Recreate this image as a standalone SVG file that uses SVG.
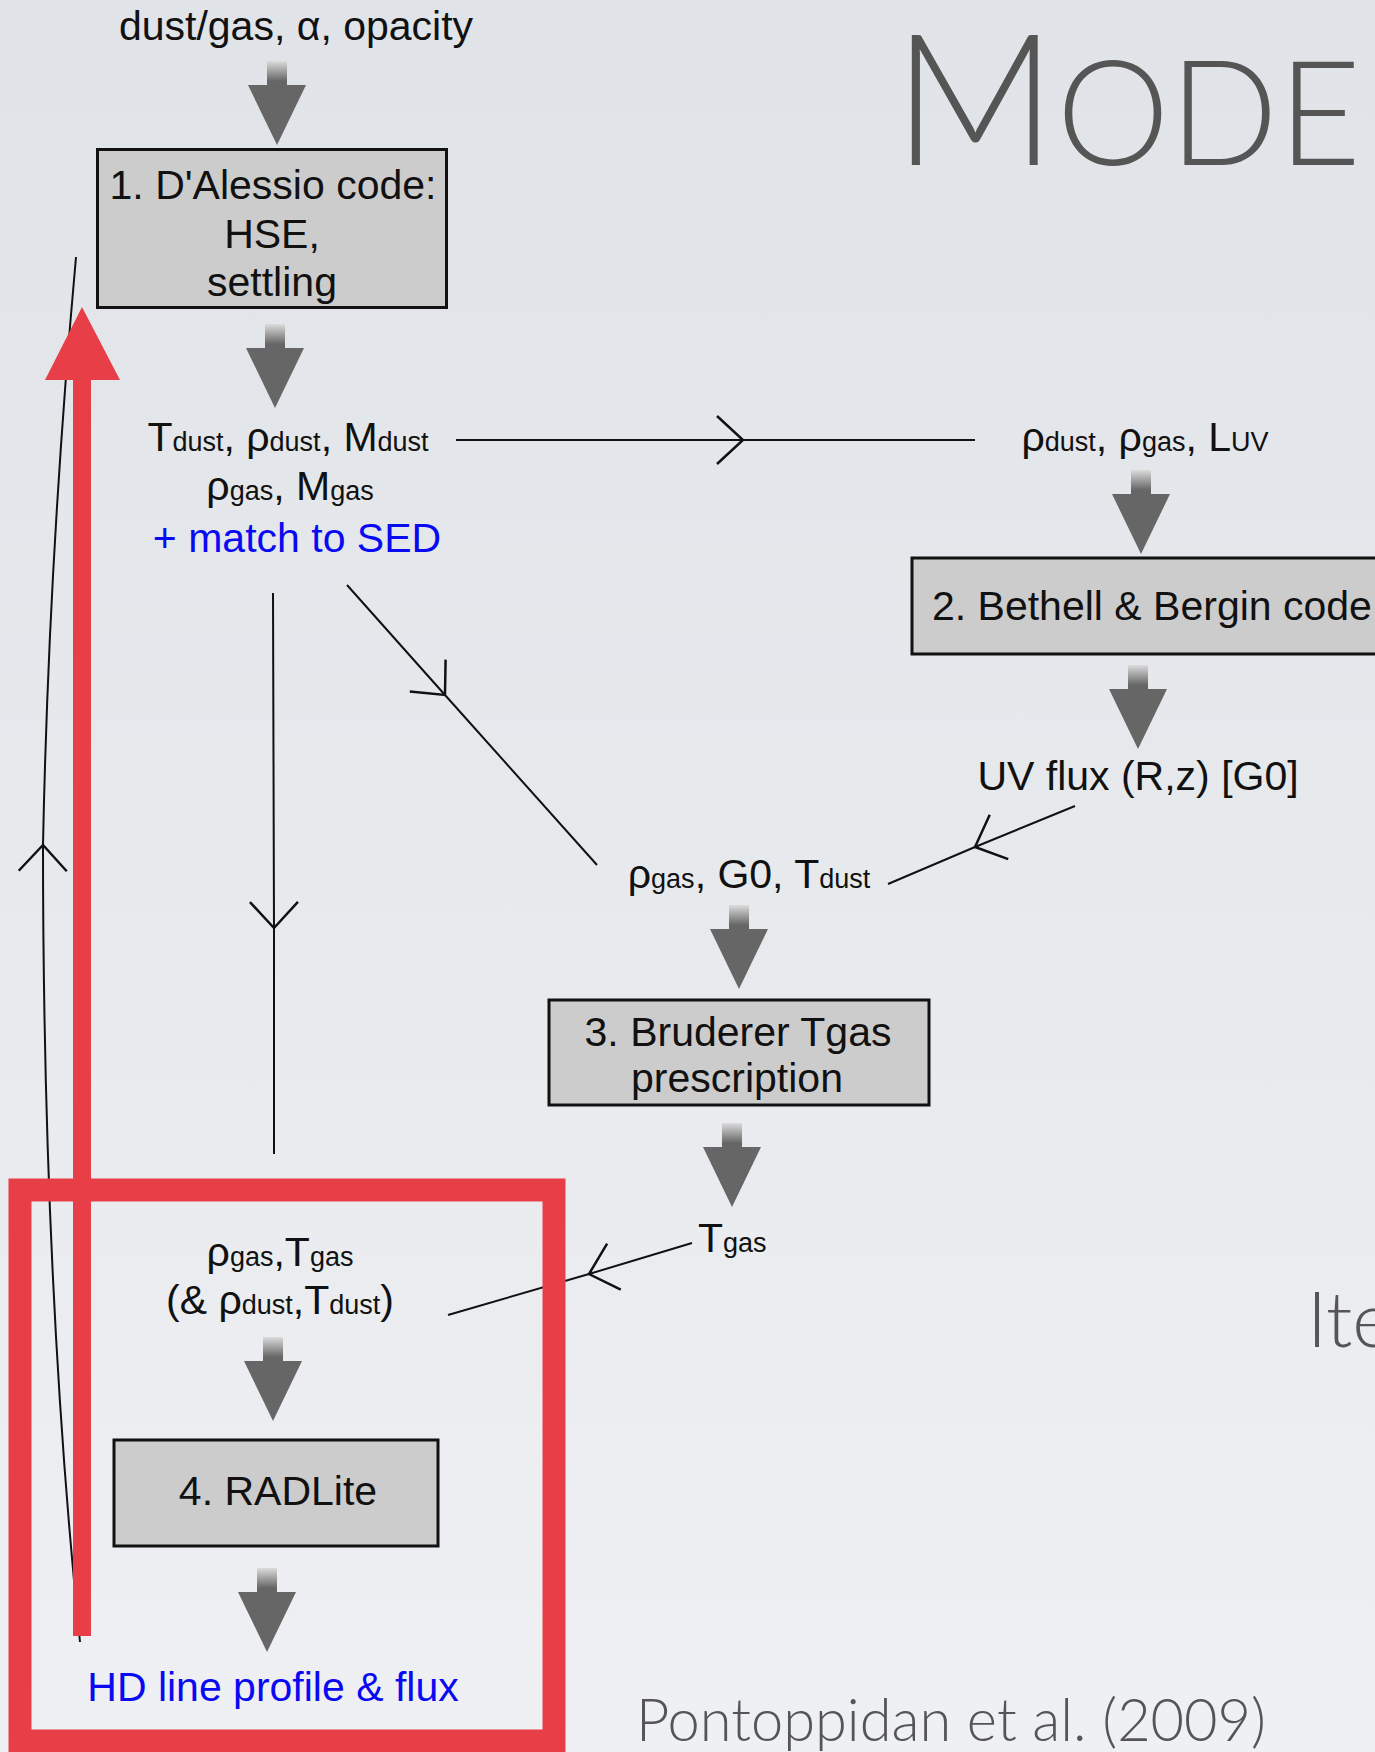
<svg xmlns="http://www.w3.org/2000/svg" xmlns:xlink="http://www.w3.org/1999/xlink" width="1375" height="1752" viewBox="0 0 1375 1752">
<style>
.t{font-family:"Liberation Sans",Arial,sans-serif;font-size:41px;fill:#111;}
.sub{font-size:27px;}
.blue{fill:#0a0af2;}
.box{fill:#cccccc;stroke:#111;stroke-width:3;}
.conn{fill:none;stroke:#111;stroke-width:2;marker-mid:url(#chev);}
.title{font-family:Lato,"Open Sans","Liberation Sans",sans-serif;font-weight:300;fill:#555;}
.red{fill:#e73e47;}
</style>
<defs>
<linearGradient id="bg" x1="0" y1="0" x2="0" y2="1">
<stop offset="0" stop-color="#e0e3e7"/>
<stop offset="1" stop-color="#eef0f3"/>
</linearGradient>
<linearGradient id="stemGrad" x1="0" y1="0" x2="0" y2="1">
<stop offset="0" stop-color="#dcdcdc"/>
<stop offset="0.8" stop-color="#666"/>
</linearGradient>
<g id="garrow">
<rect x="-10" y="0" width="20" height="25" fill="url(#stemGrad)"/>
<path d="M-29 24 L29 24 L0 84 Z" fill="#666"/>
</g>
<marker id="chev" markerUnits="userSpaceOnUse" orient="auto" refX="0" refY="0" markerWidth="60" markerHeight="60" overflow="visible">
<path d="M-26 -24 L0 0 L-26 24" fill="none" stroke="#111" stroke-width="2.5"/>
</marker>
</defs>
<rect width="1375" height="1752" fill="url(#bg)"/>

<g id="title">
<text class="title" x="893" y="165" textLength="468" lengthAdjust="spacingAndGlyphs"><tspan font-size="184">M</tspan><tspan font-size="146">ODE</tspan></text>
</g>
<g id="ite"><text class="title" x="1307" y="1347" font-size="77" font-weight="400">Ite</text></g>
<g id="citation"><text class="title" x="636" y="1741" font-size="60" textLength="630" lengthAdjust="spacingAndGlyphs">Pontoppidan et al. (2009)</text></g>

<g id="connectors">
<path class="conn" d="M456 440 L743 440 L975 440"/>
<path class="conn" d="M273 593 L274 928 L274 1154"/>
<path class="conn" d="M347 585 L445 695 L597 865"/>
<path class="conn" d="M1075 806 L975 847 L888 884"/>
<path class="conn" d="M692 1243 L589 1274 L448 1315"/>
<path class="conn" d="M80 1642 C53 1380 43 1115 43 845 C47 645 58 457 76 257"/>
</g>

<g id="flow-arrows">
<use xlink:href="#garrow" x="277" y="61"/>
<use xlink:href="#garrow" x="275" y="324"/>
<use xlink:href="#garrow" x="1141" y="470"/>
<use xlink:href="#garrow" x="1138" y="665"/>
<use xlink:href="#garrow" x="739" y="905"/>
<use xlink:href="#garrow" x="732" y="1123"/>
<use xlink:href="#garrow" x="273" y="1337"/>
<use xlink:href="#garrow" x="267" y="1568"/>
</g>

<g id="inputs"><text class="t" x="296" y="40" text-anchor="middle">dust/gas, α, opacity</text></g>

<g id="node1">
<rect class="box" x="97.5" y="149.5" width="349" height="158"/>
<text class="t" x="273" y="199" text-anchor="middle">1. D'Alessio code:</text>
<text class="t" x="272" y="248" text-anchor="middle">HSE,</text>
<text class="t" x="272" y="296" text-anchor="middle">settling</text>
</g>

<g id="dust-out">
<text class="t" x="288" y="451" text-anchor="middle">T<tspan class="sub">dust</tspan>, ρ<tspan class="sub">dust</tspan>, M<tspan class="sub">dust</tspan></text>
<text class="t" x="290" y="500" text-anchor="middle">ρ<tspan class="sub">gas</tspan>, M<tspan class="sub">gas</tspan></text>
<text class="t blue" x="297" y="552" text-anchor="middle">+ match to SED</text>
</g>

<g id="uv-in"><text class="t" x="1145" y="451" text-anchor="middle">ρ<tspan class="sub">dust</tspan>, ρ<tspan class="sub">gas</tspan>, L<tspan class="sub">UV</tspan></text></g>

<g id="node2">
<rect class="box" x="912" y="558" width="480" height="96"/>
<text class="t" x="932" y="620">2. Bethell &amp; Bergin code</text>
</g>

<g id="uv-out"><text class="t" x="1138" y="790" text-anchor="middle">UV flux (R,z) [G0]</text></g>

<g id="tgas-in"><text class="t" x="749" y="888" text-anchor="middle">ρ<tspan class="sub">gas</tspan>, G0, T<tspan class="sub">dust</tspan></text></g>

<g id="node3">
<rect class="box" x="549" y="1000" width="380" height="105"/>
<text class="t" x="738" y="1046" text-anchor="middle">3. Bruderer Tgas</text>
<text class="t" x="737" y="1092" text-anchor="middle">prescription</text>
</g>

<g id="tgas-out"><text class="t" x="698" y="1252">T<tspan class="sub">gas</tspan></text></g>

<g id="rad-in">
<text class="t" x="280" y="1266" text-anchor="middle">ρ<tspan class="sub">gas</tspan>,T<tspan class="sub">gas</tspan></text>
<text class="t" x="280" y="1314" text-anchor="middle">(&amp; ρ<tspan class="sub">dust</tspan>,T<tspan class="sub">dust</tspan>)</text>
</g>

<g id="node4">
<rect class="box" x="114" y="1440" width="324" height="106"/>
<text class="t" x="278" y="1505" text-anchor="middle">4. RADLite</text>
</g>

<g id="result"><text class="t blue" x="273" y="1701" text-anchor="middle">HD line profile &amp; flux</text></g>

<g id="highlight">
<rect x="20" y="1190" width="534" height="551" fill="none" stroke="#e73e47" stroke-width="23"/>
<rect class="red" x="73" y="376" width="18" height="1260"/>
<path class="red" d="M82 307 L120 380 L45 380 Z"/>
</g>
</svg>
